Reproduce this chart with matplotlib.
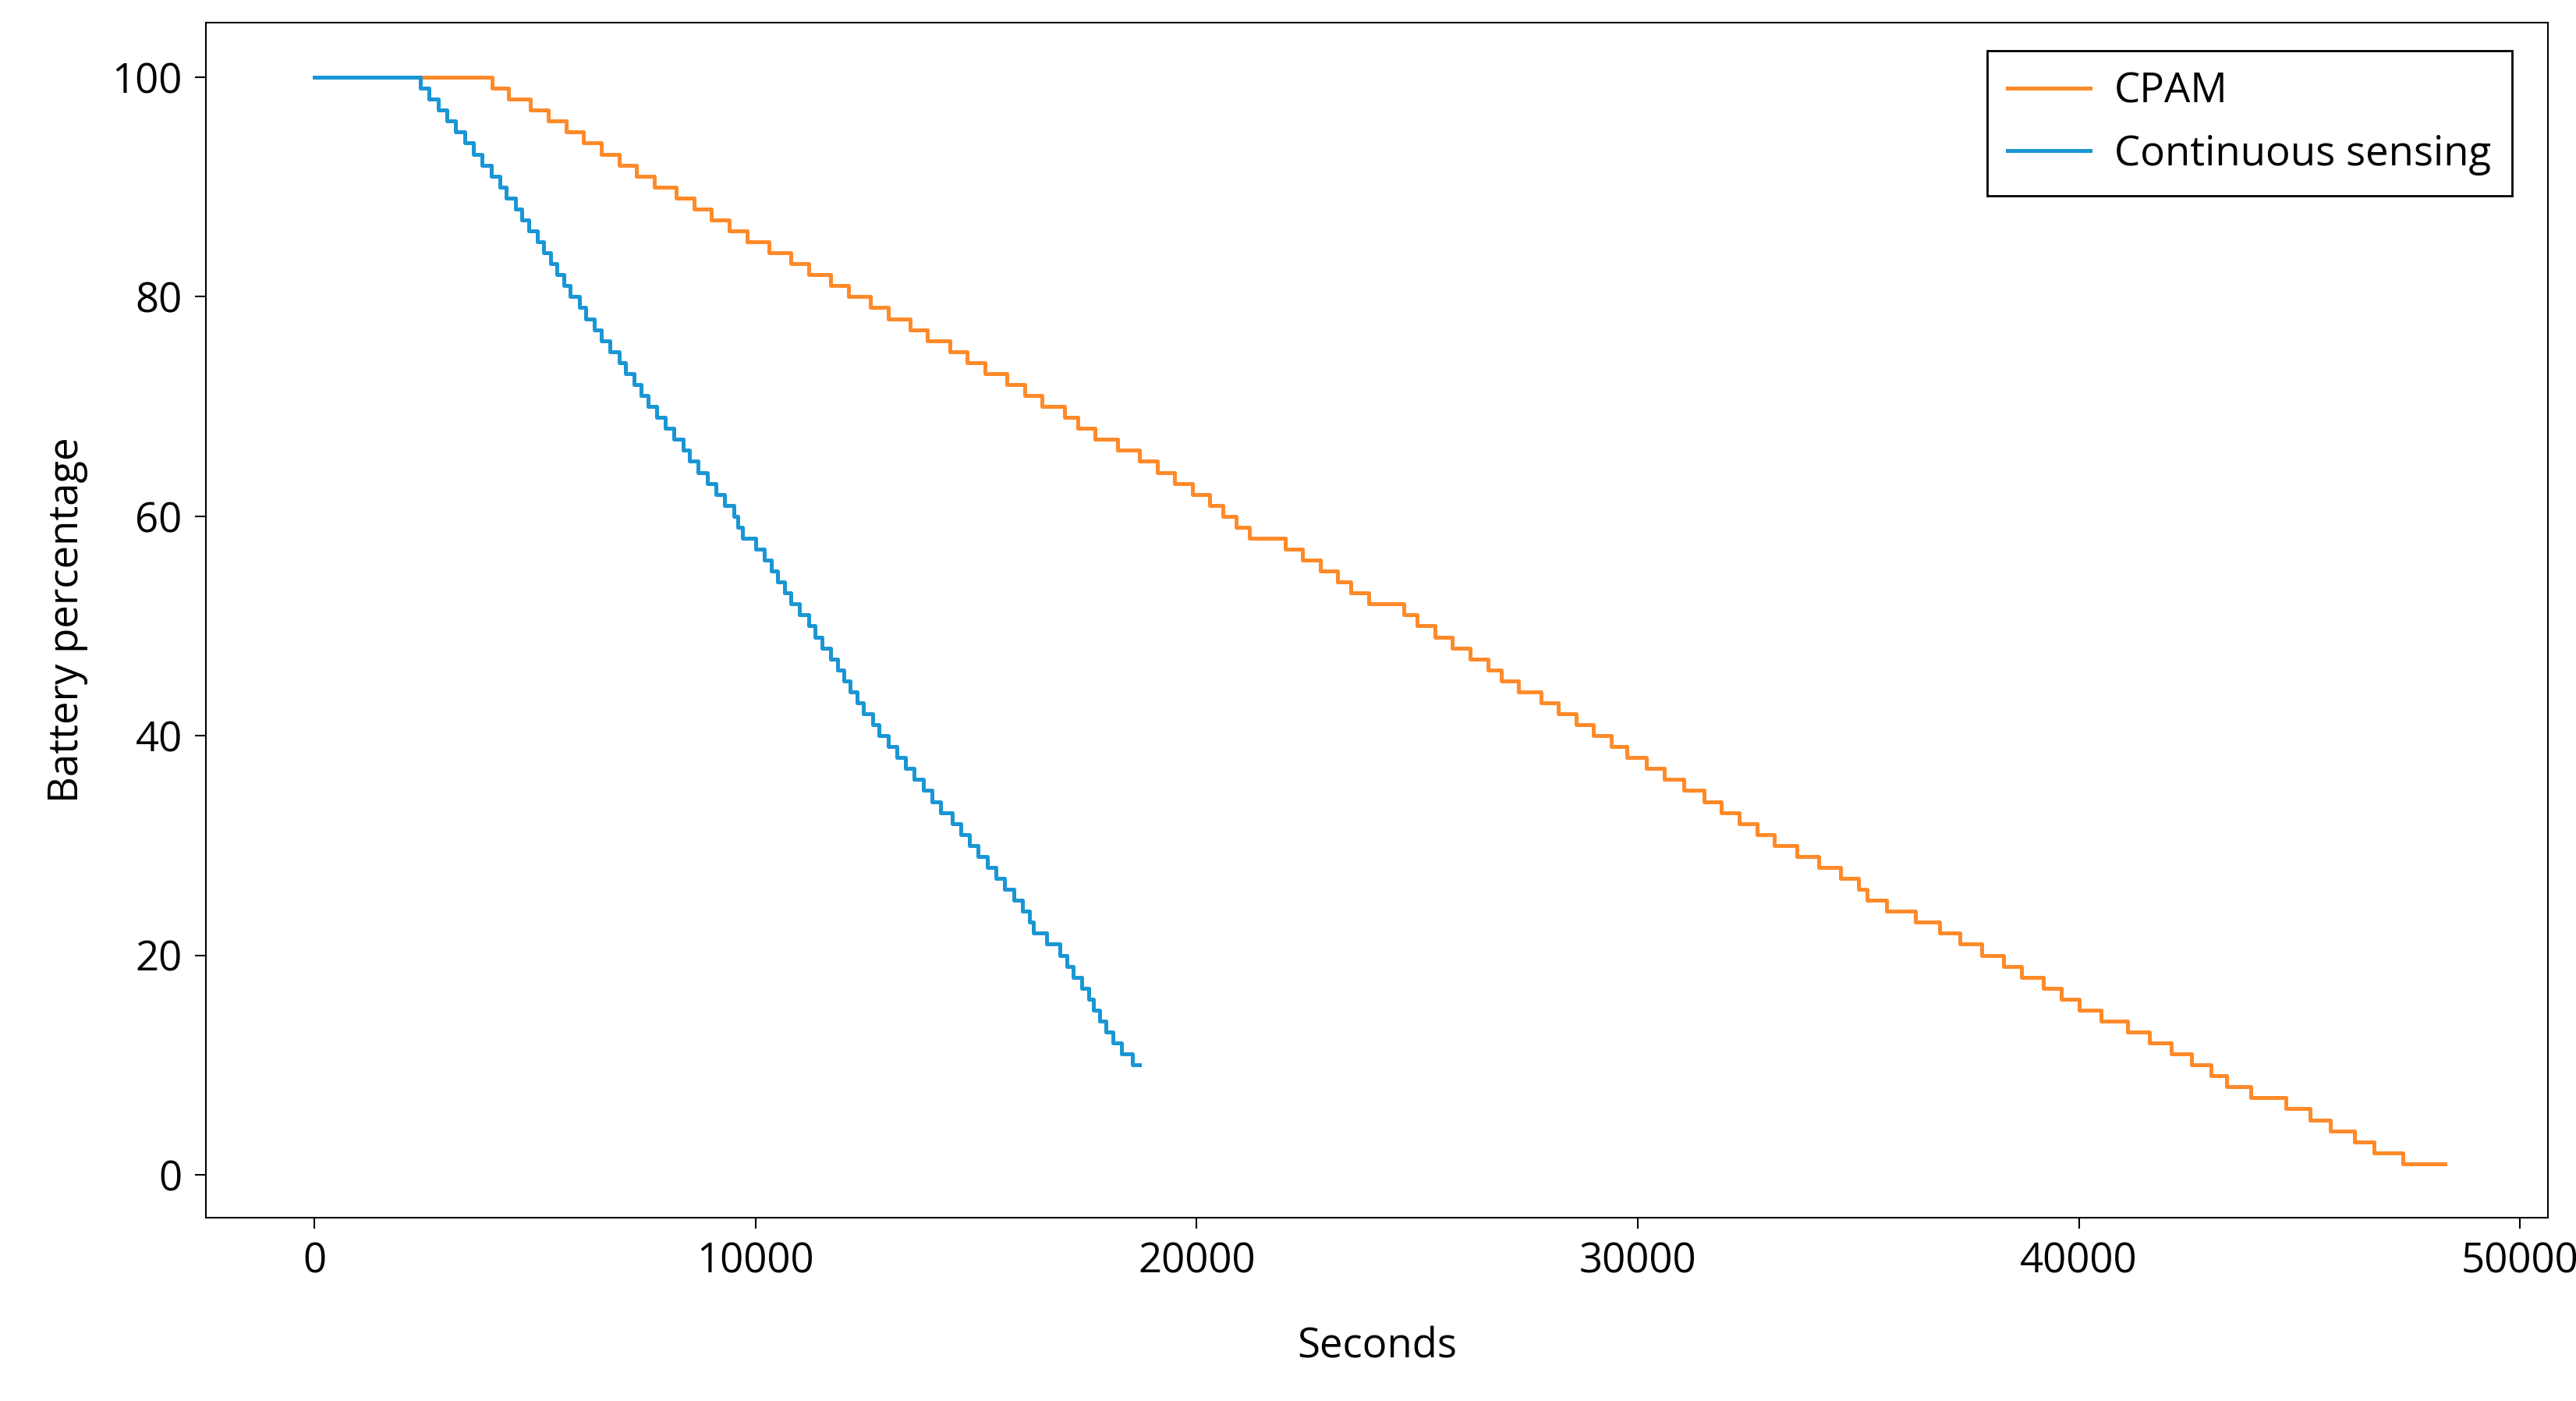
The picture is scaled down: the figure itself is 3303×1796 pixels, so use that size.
import matplotlib
matplotlib.use("Agg")
import matplotlib.pyplot as plt

plt.rcParams['font.family'] = ['Open Sans', 'DejaVu Sans']

cpam_levels = list(range(100, 0, -1))
cpam_times = [0, 4030, 4400, 4900, 5300, 5700, 6100, 6500, 6900, 7300, 7700,
              8200, 8600, 9000, 9400, 9800, 10300, 10800, 11200, 11700, 12100,
              12600, 13000, 13500, 13900, 14400, 14800, 15200, 15700, 16100, 16500,
              17000, 17300, 17700, 18200, 18700, 19100, 19500, 19900, 20300, 20600,
              20900, 21200, 22000, 22400, 22800, 23200, 23500, 23900, 24700, 25000,
              25400, 25800, 26200, 26600, 26900, 27300, 27800, 28200, 28600, 29000,
              29400, 29750, 30200, 30600, 31050, 31500, 31900, 32300, 32700, 33100,
              33600, 34100, 34600, 35000, 35200, 35650, 36300, 36850, 37300, 37800,
              38300, 38700, 39200, 39600, 40000, 40500, 41100, 41600, 42100, 42550,
              43000, 43350, 43900, 44700, 45250, 45700, 46250, 46700, 47350]
cpam_end = 48300

cont_levels = list(range(100, 9, -1))
cont_times = [0, 2400, 2600, 2800, 3000, 3200, 3400, 3600, 3800, 4000, 4200,
              4350, 4550, 4700, 4850, 5050, 5200, 5350, 5500, 5650, 5800,
              6000, 6150, 6350, 6500, 6700, 6900, 7050, 7250, 7400, 7570,
              7750, 7950, 8150, 8350, 8500, 8700, 8900, 9100, 9300, 9500,
              9600, 9700, 10000, 10200, 10350, 10500, 10650, 10800, 11000, 11200,
              11350, 11500, 11700, 11850, 12000, 12150, 12300, 12450, 12650, 12800,
              13000, 13200, 13400, 13600, 13800, 14000, 14200, 14450, 14650, 14850,
              15050, 15250, 15450, 15650, 15850, 16050, 16200, 16300, 16600, 16900,
              17050, 17200, 17400, 17550, 17650, 17800, 17950, 18100, 18300, 18550]
cont_end = 18700

fig = plt.figure(figsize=(33.03, 17.96), dpi=100)
ax = fig.add_axes([0.080, 0.131, 0.909, 0.853])

ax.step(cpam_times + [cpam_end], cpam_levels + [cpam_levels[-1]], where='post',
        color='#FF8A2A', lw=3.6, label='CPAM')
ax.step(cont_times + [cont_end], cont_levels + [cont_levels[-1]], where='post',
        color='#1A96D4', lw=3.6, label='Continuous sensing')

ax.set_xlim(-2460, 50630)
ax.set_ylim(-3.9, 105)
ax.set_xticks([0, 10000, 20000, 30000, 40000, 50000])
ax.set_yticks([0, 20, 40, 60, 80, 100])
ax.tick_params(labelsize=38, length=10, width=1.5, pad=12)
for s in ax.spines.values():
    s.set_linewidth(1.5)
ax.set_xlabel('Seconds', fontsize=38, labelpad=40)
ax.set_ylabel('Battery percentage', fontsize=38, labelpad=22)

leg = ax.legend(loc='upper right', fontsize=38, fancybox=False, edgecolor='black',
                framealpha=1, handlelength=2.0, borderpad=0.5, handletextpad=0.6,
                bbox_to_anchor=(0.9935, 0.9935))
leg.get_frame().set_linewidth(2)

fig.savefig('out.png', dpi=100)
